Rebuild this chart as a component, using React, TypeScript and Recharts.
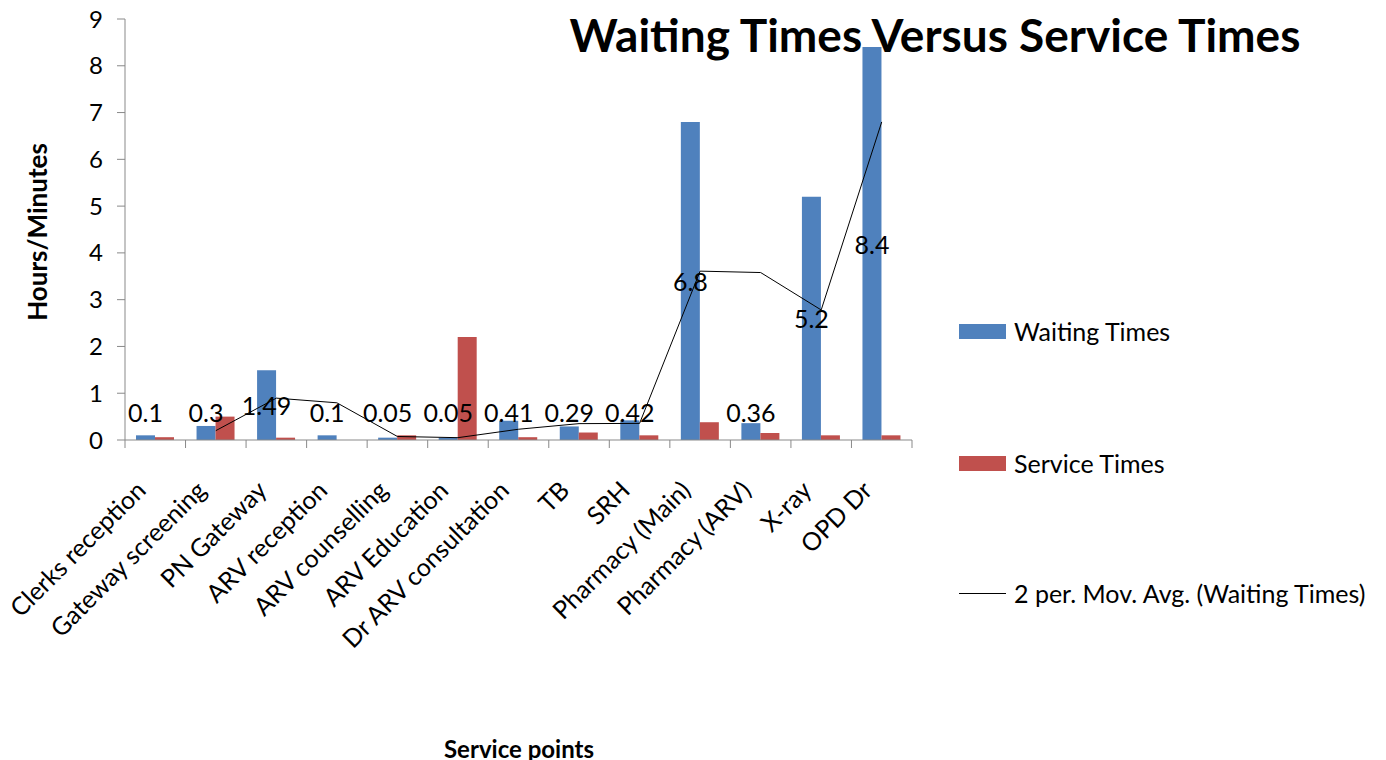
import { ComposedChart, Bar, Line, XAxis, YAxis, LabelList } from "recharts";

// Excel-ish palette
const BLUE = "#4F81BD";
const RED = "#C0504D";
const AXIS = "#898989";
const FONT = "Lato, 'Open Sans', sans-serif";

const categories = [
  "Clerks reception",
  "Gateway screening",
  "PN Gateway",
  "ARV reception",
  "ARV counselling",
  "ARV Education",
  "Dr ARV consultation",
  "TB",
  "SRH",
  "Pharmacy (Main)",
  "Pharmacy (ARV)",
  "X-ray",
  "OPD Dr",
];
const waitingTimes = [0.1, 0.3, 1.49, 0.1, 0.05, 0.05, 0.41, 0.29, 0.42, 6.8, 0.36, 5.2, 8.4];
const serviceTimes = [0.06, 0.5, 0.05, 0, 0.1, 2.2, 0.06, 0.16, 0.1, 0.38, 0.15, 0.1, 0.1];
// 2 period moving average
const movingAvg = [null, 0.2, 0.895, 0.795, 0.075, 0.05, 0.23, 0.35, 0.355, 3.61, 3.58, 2.78, 6.8];
const yTicks = [0, 1, 2, 3, 4, 5, 6, 7, 8, 9];

const data = categories.map((name, i) => ({
  name,
  waiting: waitingTimes[i],
  service: serviceTimes[i],
  avg: movingAvg[i],
}));

const W = 1386;
const H = 760;
const LEFT = 125;
const RIGHT = 474;
const BAND = (W - LEFT - RIGHT) / categories.length;

function XTick(props: any) {
  const { x, y, payload, index } = props;
  const half = BAND / 2;
  return (
    <g>
      <line x1={x - half} y1={y} x2={x - half} y2={y + 8} stroke={AXIS} />
      {index === categories.length - 1 && (
        <line x1={x + half} y1={y} x2={x + half} y2={y + 8} stroke={AXIS} />
      )}
      <text
        x={x - 8}
        y={y + 52}
        transform={`rotate(-45, ${x - 8}, ${y + 52})`}
        textAnchor="end"
        fontSize={25}
        fontFamily={FONT}
        fill="#000"
      >
        {payload.value}
      </text>
    </g>
  );
}

function BarLabel(props: any) {
  const { x, y, width, height, value } = props;
  const cx = Number(x) + Number(width) / 2;
  const cy = Math.min(Number(y) + Number(height) / 2, Number(y) + Number(height) - 28);
  return (
    <text x={cx} y={cy} textAnchor="middle" dominantBaseline="central" fontSize={25} fontFamily={FONT} fill="#000">
      {value}
    </text>
  );
}

function ChartLegend() {
  const row = { display: "flex", alignItems: "center", height: 30, fontSize: 25, fontFamily: FONT, color: "#000" } as const;
  return (
    <div style={{ position: "absolute", left: 959, top: 316, width: 427 }}>
      <div style={row}>
        <span style={{ width: 47, height: 15, background: BLUE, marginRight: 8 }} />
        Waiting Times
      </div>
      <div style={{ ...row, marginTop: 102 }}>
        <span style={{ width: 47, height: 15, background: RED, marginRight: 8 }} />
        Service Times
      </div>
      <div style={{ ...row, marginTop: 100 }}>
        <span style={{ width: 47, height: 1, background: "#000", marginRight: 8 }} />
        2 per. Mov. Avg. (Waiting Times)
      </div>
    </div>
  );
}

export default function App() {
  return (
    <div style={{ position: "absolute", left: 0, top: 0, width: W, height: H, background: "#fff" }}>
      <ComposedChart
        width={W}
        height={H}
        data={data}
        margin={{ top: 19, right: RIGHT, left: 0, bottom: 20 }}
        barGap={0}
      >
        <XAxis
          dataKey="name"
          interval={0}
          height={300}
          tickLine={false}
          tickSize={0}
          tickMargin={0}
          axisLine={{ stroke: AXIS }}
          tick={<XTick />}
        />
        <YAxis
          width={LEFT}
          domain={[0, 9]}
          ticks={yTicks}
          interval={0}
          tickSize={8}
          tickMargin={14}
          axisLine={{ stroke: AXIS }}
          tickLine={{ stroke: AXIS }}
          tick={{ fontSize: 24, fill: "#000", fontFamily: FONT }}
        />
        <Bar dataKey="waiting" fill={BLUE} barSize={19} isAnimationActive={false}>
          <LabelList dataKey="waiting" content={<BarLabel />} />
        </Bar>
        <Bar dataKey="service" fill={RED} barSize={19} isAnimationActive={false} />
        <Line
          dataKey="avg"
          type="linear"
          stroke="#000"
          strokeWidth={1}
          dot={false}
          activeDot={false}
          isAnimationActive={false}
        />
      </ComposedChart>
      <ChartLegend />
      <div
        style={{
          position: "absolute",
          left: 560,
          top: 8,
          width: 750,
          textAlign: "center",
          fontFamily: FONT,
          fontWeight: 700,
          fontSize: 46,
          color: "#000",
          lineHeight: "54px",
        }}
      >
        Waiting Times Versus Service Times
      </div>
      <div
        style={{
          position: "absolute",
          left: 37,
          top: 232,
          transform: "translate(-50%, -50%) rotate(-90deg)",
          whiteSpace: "nowrap",
          fontFamily: FONT,
          fontWeight: 700,
          fontSize: 26,
          color: "#000",
        }}
      >
        Hours/Minutes
      </div>
      <div
        style={{
          position: "absolute",
          left: 519,
          top: 748,
          transform: "translate(-50%, -50%)",
          whiteSpace: "nowrap",
          fontFamily: FONT,
          fontWeight: 700,
          fontSize: 24,
          color: "#000",
        }}
      >
        Service points
      </div>
    </div>
  );
}
